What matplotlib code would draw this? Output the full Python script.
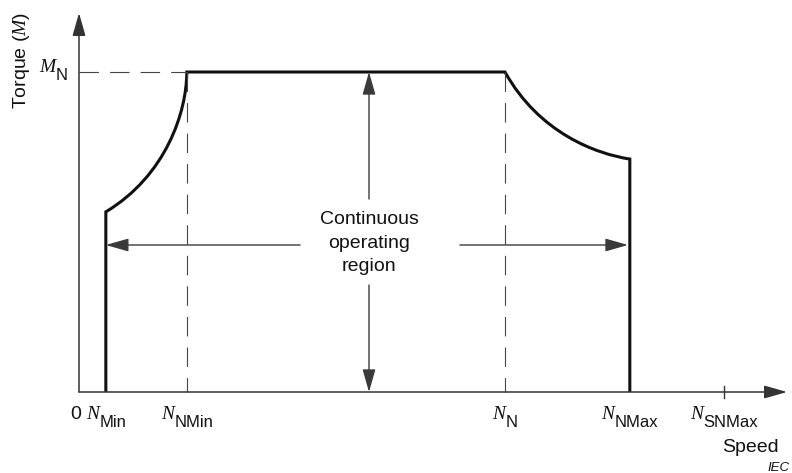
import matplotlib
matplotlib.use("Agg")
import matplotlib.pyplot as plt
from matplotlib.path import Path
from matplotlib.patches import PathPatch
from matplotlib.transforms import offset_copy

plt.rcParams["font.family"] = ["Liberation Sans", "DejaVu Sans"]
plt.rcParams["mathtext.fontset"] = "custom"
plt.rcParams["mathtext.it"] = "Liberation Serif:italic"
plt.rcParams["mathtext.rm"] = "Liberation Sans"
plt.rcParams["lines.scale_dashes"] = False

# Speeds in % of rated speed N_N, torque in % of rated torque M_N
N_MIN = 6.3
N_NMIN = 25.3
N_N = 100.0
N_NMAX = 129.3
N_SNMAX = 151.4
M_N = 100.0

# torque available at N_Min and at N_NMax
M_AT_NMIN = 56.3
M_AT_NMAX = 72.8

# Bezier control points of the low-speed derating curve (N_Min -> N_NMin)
low_ctrl_speed = [20.4, 25.3]
low_ctrl_torque = [67.6, 87.5]
# Bezier control points of the field-weakening curve (N_N -> N_NMax)
high_ctrl_speed = [108.0, 121.4]
high_ctrl_torque = [80.9, 74.4]

tick_positions = [N_MIN, N_NMIN, N_N, N_NMAX, N_SNMAX]
tick_subscripts = ["Min", "NMin", "N", "NMax", "SNMax"]
region_label = "Continuous\noperating\nregion"

# pixel scale of the drawing
PX_X = 4.26
PX_Y = 3.2
W, H = 792, 473
X0, Y0 = 79, 392


def at(px, py):
    """Convert an image pixel position to data coordinates."""
    return (px - X0) / PX_X, (Y0 - py) / PX_Y


fig = plt.figure(figsize=(W / 100, H / 100), dpi=100)
ax = fig.add_axes([0, 0, 1, 1])
ax.set_xlim(-X0 / PX_X, (W - X0) / PX_X)
ax.set_ylim(-(H - Y0) / PX_Y, Y0 / PX_Y)
ax.axis("off")

axis_col = "#333333"
arrow_kw = dict(arrowstyle="-|>,head_length=14,head_width=4",
                mutation_scale=1, shrinkA=0, shrinkB=0)

# coordinate axes with arrow heads
x_end = at(787, Y0)[0]
y_end = at(X0, 13)[1]
ax.annotate("", xy=(x_end, 0), xytext=(0, 0),
            arrowprops=dict(**arrow_kw, color=axis_col, lw=1.1))
ax.annotate("", xy=(0, y_end), xytext=(0, 0),
            arrowprops=dict(**arrow_kw, color=axis_col, lw=1.1))

# dashed reference lines
dash = dict(color="#444444", lw=0.8, linestyle=(0, (14, 8)))
ax.plot([0, N_NMIN], [M_N, M_N], **dash)
ax.plot([N_NMIN, N_NMIN], [M_N, 0], **dash)
ax.plot([N_N, N_N], [M_N, 0], **dash)

# tick for the maximum safe speed
tick_h = 6 / PX_Y
ax.plot([N_SNMAX, N_SNMAX], [-tick_h, tick_h], color=axis_col, lw=1.0)

# operating-region boundary
verts = [
    (N_MIN, 0), (N_MIN, M_AT_NMIN),
    (low_ctrl_speed[0], low_ctrl_torque[0]),
    (low_ctrl_speed[1], low_ctrl_torque[1]),
    (N_NMIN, M_N),
    (N_N, M_N),
    (high_ctrl_speed[0], high_ctrl_torque[0]),
    (high_ctrl_speed[1], high_ctrl_torque[1]),
    (N_NMAX, M_AT_NMAX),
    (N_NMAX, 0),
]
codes = [Path.MOVETO, Path.LINETO,
         Path.CURVE4, Path.CURVE4, Path.CURVE4,
         Path.LINETO,
         Path.CURVE4, Path.CURVE4, Path.CURVE4,
         Path.LINETO]
ax.add_patch(PathPatch(Path(verts, codes), fill=False, edgecolor="#111111",
                       lw=2.2, joinstyle="miter", capstyle="butt"))

# double-headed arrows across the region (split around the label)
mid_x = at(369, 0)[0]
mid_y = at(0, 245)[1]
inner = dict(**arrow_kw, color="#3a3a3a", lw=1.0)
ax.annotate("", xy=(N_MIN, mid_y), xytext=(at(300, 0)[0], mid_y), arrowprops=inner)
ax.annotate("", xy=(at(628, 0)[0], mid_y), xytext=(at(460, 0)[0], mid_y), arrowprops=inner)
ax.annotate("", xy=(mid_x, M_N), xytext=(mid_x, at(0, 199)[1]), arrowprops=inner)
ax.annotate("", xy=(mid_x, 0), xytext=(mid_x, at(0, 285)[1]), arrowprops=inner)

ax.text(mid_x, at(0, 243)[1], region_label, ha="center", va="center",
        fontsize=14, linespacing=1.5, color="#111111")

renderer = fig.canvas.get_renderer()


def sub_label(x, y, main, sub, align="center", drop=7.5):
    tm = ax.text(x, y, main, family="Liberation Serif", style="italic",
                 fontsize=14, ha="left", va="baseline", color="#111111")
    ts = ax.text(x, y, sub, fontsize=12, ha="left", va="baseline",
                 color="#111111")
    wm = tm.get_window_extent(renderer).width
    ws = ts.get_window_extent(renderer).width
    start = -(wm + ws) / 2 if align == "center" else -(wm + ws)
    tm.set_transform(offset_copy(ax.transData, fig=fig, x=start, y=0, units="dots"))
    ts.set_transform(offset_copy(ax.transData, fig=fig, x=start + wm + 0.5,
                                 y=-drop, units="dots"))


label_y = at(0, 419)[1]
for pos, sub in zip(tick_positions, tick_subscripts):
    sub_label(pos, label_y, "N", sub)

ax.text(at(76, 0)[0], label_y, "0", ha="center", va="baseline",
        fontsize=14, color="#111111")

sub_label(at(67, 0)[0], M_N, "M", "N", align="right", drop=8)

ax.text(*at(22, 60), "Torque ($M$)", rotation=90, ha="center", va="center",
        fontsize=14, color="#111111")
ax.text(*at(779, 452), "Speed", ha="right", va="baseline", fontsize=14,
        color="#111111")
ax.text(*at(790, 471), "IEC", ha="right", va="baseline", fontsize=9.5,
        style="italic", color="#111111")

fig.savefig("out.png", dpi=100)
